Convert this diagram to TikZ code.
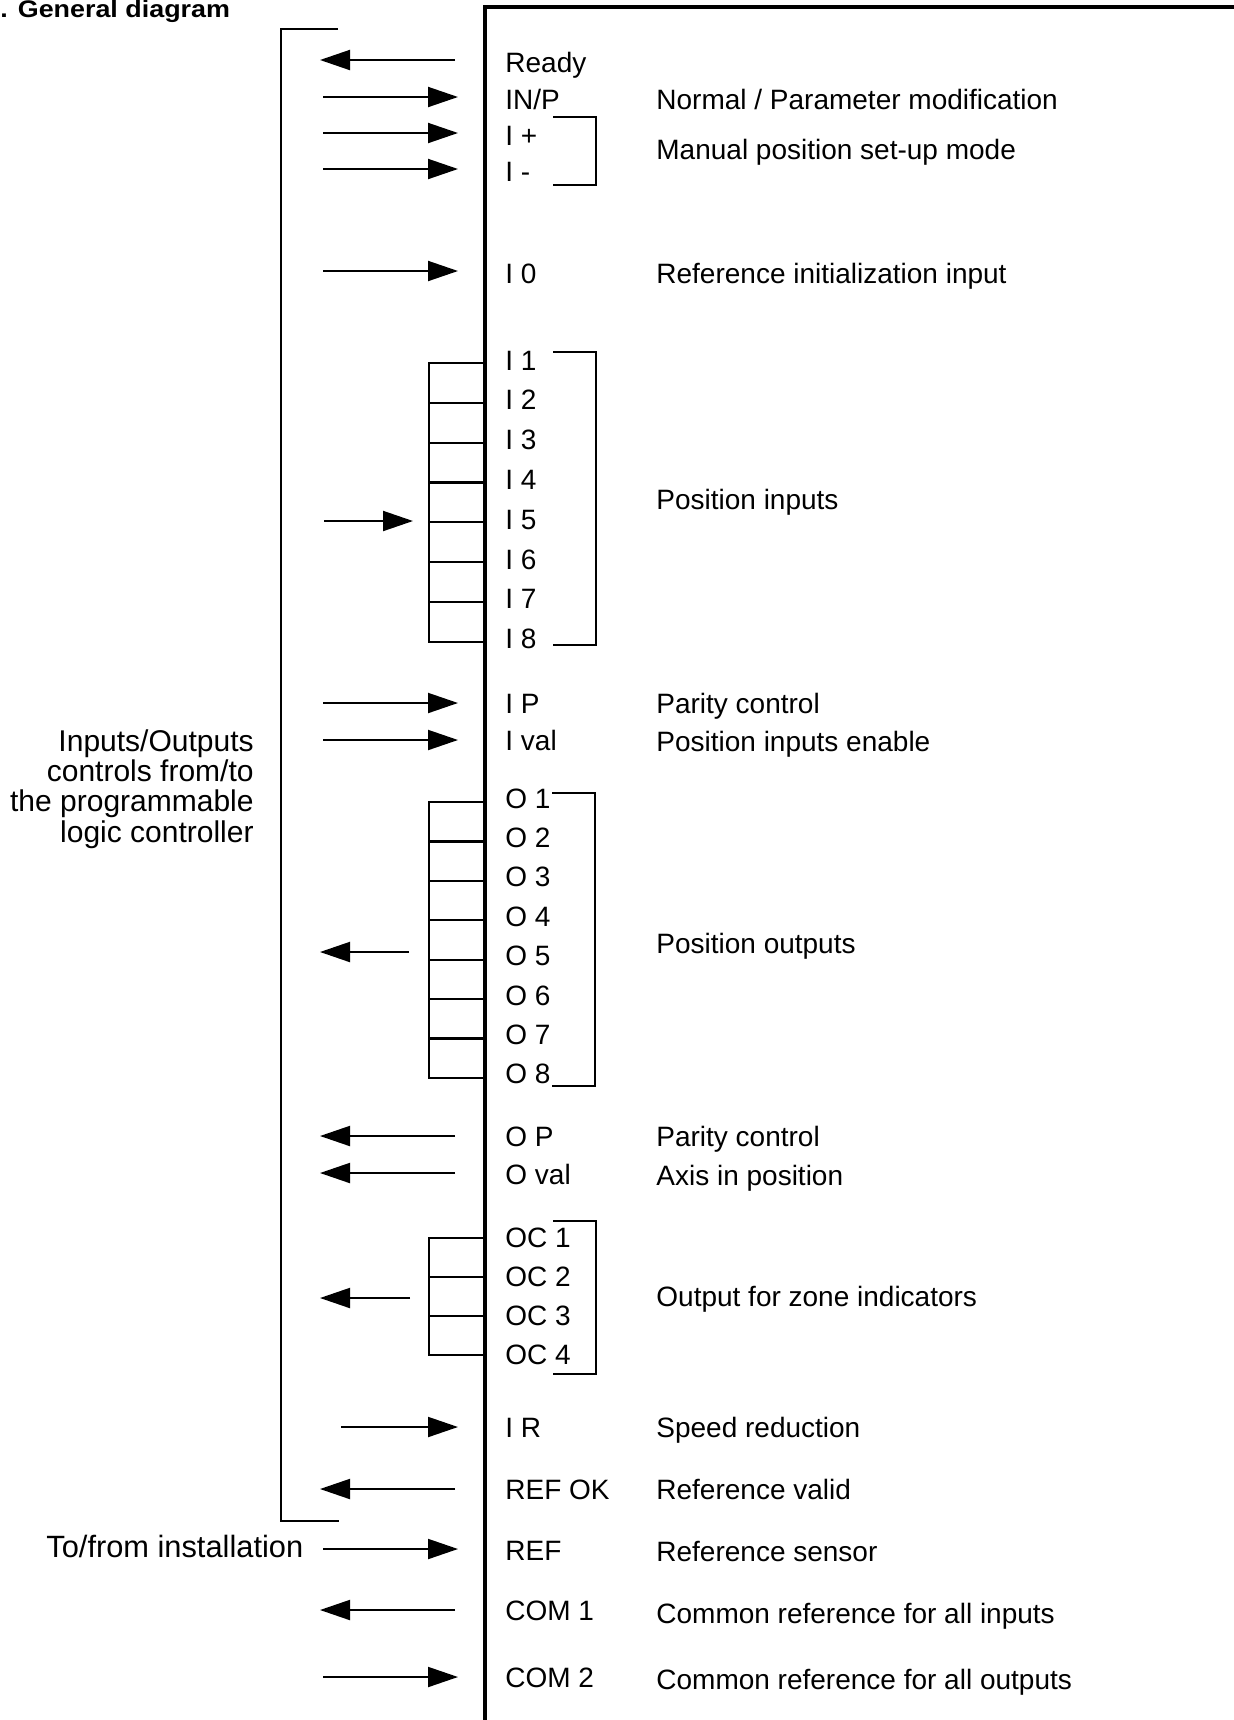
\documentclass[tikz,border=0pt]{standalone}
\usepackage{fontspec}
\setmainfont{Liberation Sans}
\usetikzlibrary{arrows.meta}
\tikzset{
  wall/.style={line width=1.6pt},
  brk/.style={line width=1.1pt},
  comb/.style={line width=1.1pt},
  sig/.style={-{Triangle[length=15pt,width=10pt]},line width=1pt},
  pin/.style={anchor=base west,inner sep=0pt,font=\fontsize{14}{16}\selectfont},
  desc/.style={anchor=base west,inner sep=0pt,font=\fontsize{14}{16}\selectfont},
  side/.style={inner sep=0pt,font=\fontsize{15}{15.2}\selectfont},
}

\begin{document}
\begin{tikzpicture}[x=0.5pt,y=-0.5pt]
  \useasboundingbox (0,0) rectangle (1234,1720);
  % title, cut by the top edge
  \node[anchor=base west,inner sep=0pt,xscale=1.12,font=\bfseries\fontsize{12}{14}\selectfont] (title) at (0,17) {. General diagram};
  % module wall
  \draw[wall] (485,1730) -- (485,7) -- (1240,7);
  % PLC bracket
  \draw[brk] (338,29) -- (281,29) -- (281,1521) -- (339,1521);
  \node[side,align=right,anchor=east] (plc) at (254,789) {Inputs/Outputs\\controls from/to\\the programmable\\logic controller};
  \node[side,anchor=base west,font=\fontsize{15.4}{16}\selectfont] (inst) at (46,1557) {To/from installation};

  % pin names
  \node[pin] (ready) at (505,72) {Ready};
  \node[pin] (inp) at (505,109) {IN/P};
  \node[pin] (iplus) at (505,145) {I +};
  \node[pin] (iminus) at (505,181) {I -};
  \node[pin] (izero) at (505,283) {I 0};
  \foreach \k in {1,...,8} \node[pin] (i\k) at (505,{370+39.8*(\k-1)}) {I \k};
  \node[pin] (ip) at (505,713) {I P};
  \node[pin] (ival) at (505,750) {I val};
  \foreach \k in {1,...,8} \node[pin] (o\k) at (505,{808+39.4*(\k-1)}) {O \k};
  \node[pin] (op) at (505,1146) {O P};
  \node[pin] (oval) at (505,1184) {O val};
  \foreach \k in {1,...,4} \node[pin] (oc\k) at (505,{1247+39*(\k-1)}) {OC \k};
  \node[pin] (ir) at (505,1437) {I R};
  \node[pin] (refok) at (505,1499) {REF OK};
  \node[pin] (ref) at (505,1560) {REF};
  \node[pin] (com1) at (505,1620) {COM 1};
  \node[pin] (com2) at (505,1687) {COM 2};

  % meanings
  \node[desc] (dnorm) at (656,109) {Normal / Parameter modification};
  \node[desc] (dman) at (656,159) {Manual position set-up mode};
  \node[desc] (dinit) at (656,283) {Reference initialization input};
  \node[desc] (dposin) at (656,509) {Position inputs};
  \node[desc] (dparin) at (656,713) {Parity control};
  \node[desc] (denab) at (656,751) {Position inputs enable};
  \node[desc] (dposout) at (656,953) {Position outputs};
  \node[desc] (dparout) at (656,1146) {Parity control};
  \node[desc] (daxis) at (656,1185) {Axis in position};
  \node[desc] (dzone) at (656,1306) {Output for zone indicators};
  \node[desc] (dspeed) at (656,1437) {Speed reduction};
  \node[desc] (dvalid) at (656,1499) {Reference valid};
  \node[desc] (dsensor) at (656,1561) {Reference sensor};
  \node[desc] (dcomin) at (656,1623) {Common reference for all inputs};
  \node[desc] (dcomout) at (656,1689) {Common reference for all outputs};

  % group brackets
  \draw[brk] (553,117) -- (596,117) -- (596,185) -- (553,185);
  \draw[brk] (553,352) -- (596,352) -- (596,645) -- (553,645);
  \draw[brk] (552,793) -- (595,793) -- (595,1086) -- (552,1086);
  \draw[brk] (553,1221) -- (596,1221) -- (596,1374) -- (553,1374);

  % combs
  \draw[comb] (485,363) -- (429,363) -- (429,641.6) -- (485,641.6);
  \foreach \k in {1,...,6} \draw[comb] (429,{363+39.8*\k}) -- (485,{363+39.8*\k});
  \draw[comb] (485,802) -- (429,802) -- (429,1078) -- (485,1078);
  \foreach \k in {1,...,6} \draw[comb] (429,{802+39.4*\k}) -- (485,{802+39.4*\k});
  \draw[comb] (485,1238) -- (429,1238) -- (429,1355) -- (485,1355);
  \foreach \k in {1,2} \draw[comb] (429,{1238+39*\k}) -- (485,{1238+39*\k});

  % signals into the module
  \coordinate (rail) at (458,0);
  \foreach \y/\nm in {97/inp,133/iplus,169/iminus,271/izero,703/ip,740/ival,1549/ref,1677/com2}{
    \coordinate (s-\nm) at (323,\y);
    \draw[sig] (s-\nm) -- (s-\nm -| rail);
  }
  \coordinate (s-ir) at (341,1427);
  \draw[sig] (s-ir) -- (s-ir -| rail);
  \coordinate (s-ipos) at (324,521);
  \coordinate (e-ipos) at (413,521);
  \draw[sig] (s-ipos) -- (e-ipos);
  % signals out of the module
  \coordinate (ext) at (320,0);
  \foreach \y/\nm in {60/ready,1136/op,1173/oval,1489/refok,1610/com1}{
    \coordinate (s-\nm) at (455,\y);
    \draw[sig] (s-\nm) -- (s-\nm -| ext);
  }
  \coordinate (s-opos) at (409,952);
  \draw[sig] (s-opos) -- (s-opos -| ext);
  \coordinate (s-zone) at (410,1298);
  \draw[sig] (s-zone) -- (s-zone -| ext);
\end{tikzpicture}
\end{document}
